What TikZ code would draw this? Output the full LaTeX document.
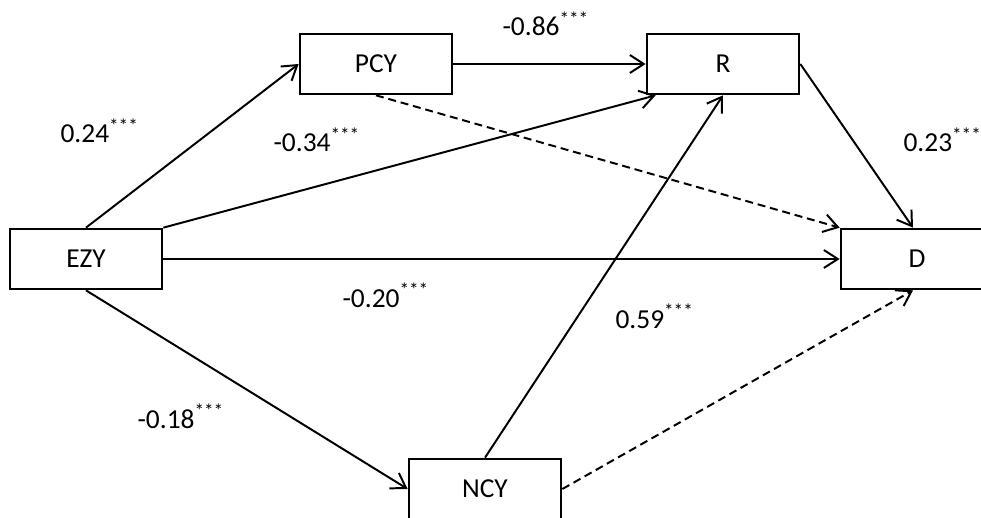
\documentclass[tikz,border=0pt]{standalone}
\usepackage{fontspec}
\setmainfont{Carlito}
\usepackage{tikz}
\usetikzlibrary{arrows.meta}

\begin{document}
\begin{tikzpicture}[x=0.025cm,y=-0.025cm,thick,font=\fontsize{19.5}{22}\selectfont,
  var node/.style={draw,line width=1.9pt,rectangle,minimum width=3.8cm,minimum height=1.5cm,inner sep=0pt},
  coef/.style={anchor=base west,inner sep=0pt}]
\tikzstyle{path edge} = [draw,line width=1.4pt,-{Straight Barb[length=0.35cm,width=0.45cm,line width=1.4pt]}]
\tikzstyle{weak edge} = [path edge,dash pattern=on 0.2cm off 0.12cm]

\useasboundingbox (0,0) rectangle (981,518);
\clip (0,0) rectangle (981,518);

% Variables
\node[var node] (ezy) at (86,259) {EZY};
\node[var node] (pcy) at (376,64) {PCY};
\node[var node] (r) at (723,64) {R};
\node[var node] (d) at (917,259) {D};
\node[var node] (ncy) at (485,489) {NCY};

% Paths
\draw[path edge] (ezy.north) -- (pcy.west);
\draw[path edge] (ezy.north east) -- ([xshift=0.25cm]r.south west);
\draw[path edge] (ezy.east) -- (d.west);
\draw[path edge] (ezy.south) -- (ncy.west);
\draw[path edge] (pcy.east) -- (r.west);
\draw[path edge] (r.east) -- ([xshift=-0.1cm]d.north);
\draw[path edge] (ncy.north) -- (r.south);
\draw[weak edge] (pcy.south) -- (d.north west);
\draw[weak edge] (ncy.east) -- ([xshift=-0.1cm]d.south);

% Coefficients
\node[coef] (c1) at (60,143) {0.24\textsuperscript{***}};
\node[coef] (c2) at (273,152) {-0.34\textsuperscript{***}};
\node[coef] (c3) at (502,36) {-0.86\textsuperscript{***}};
\node[coef] (c4) at (903,152) {0.23\textsuperscript{***}};
\node[coef] (c5) at (342,307) {-0.20\textsuperscript{***}};
\node[coef] (c6) at (615,328) {0.59\textsuperscript{***}};
\node[coef] (c7) at (137,428) {-0.18\textsuperscript{***}};

\end{tikzpicture}
\end{document}
